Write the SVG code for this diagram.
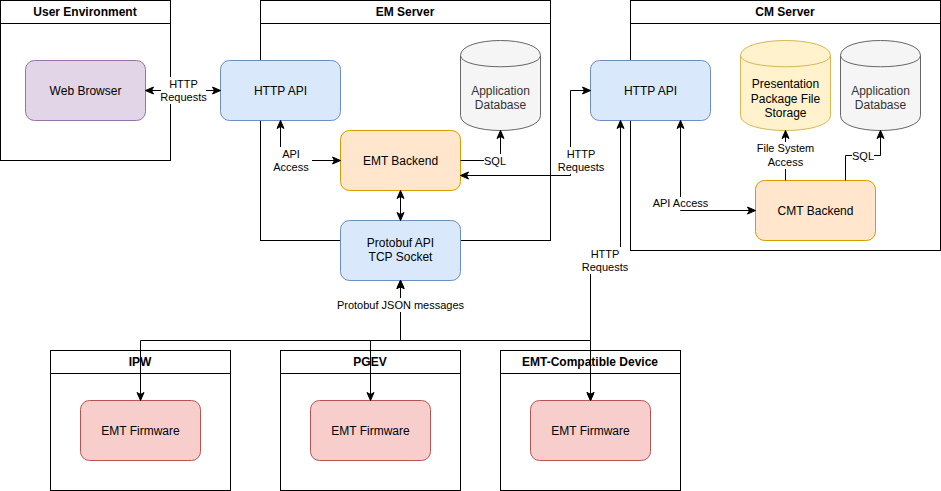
<svg xmlns="http://www.w3.org/2000/svg" width="941" height="491" viewBox="0 0 941 491">
<defs>
<marker id="arr" markerUnits="userSpaceOnUse" markerWidth="10" markerHeight="10" viewBox="0 0 10 10" refX="9" refY="5" orient="auto-start-reverse">
<path d="M1,1.5 L9,5 L1,8.5 L3,5 Z" fill="#000" stroke="#000" stroke-width="1"/>
</marker>
<style>
.cont{fill:#fff;stroke:#000;stroke-width:1}
.title{font-family:"Liberation Sans",Arial,sans-serif;font-size:12px;font-weight:bold;fill:#000;text-anchor:middle}
.lbl{font-family:"Liberation Sans",Arial,sans-serif;font-size:12px;fill:#000;text-anchor:middle}
.elbl{font-family:"Liberation Sans",Arial,sans-serif;font-size:11px;fill:#000;text-anchor:middle}
.bg{fill:#fff}
.edge{fill:none;stroke:#000;stroke-width:1}
.purple{fill:#e1d5e7;stroke:#9673a6}
.blue{fill:#dae8fc;stroke:#6c8ebf}
.orange{fill:#ffe6cc;stroke:#d79b00}
.red{fill:#f8cecc;stroke:#b85450}
.gray{fill:#f5f5f5;stroke:#666666}
.yellow{fill:#fff2cc;stroke:#d6b656}
</style>
</defs>
<rect width="941" height="491" fill="#fff"/>

<g id="user-env">
<rect class="cont" x="0.5" y="0.5" width="170" height="160"/>
<line x1="0.5" y1="23.5" x2="170.5" y2="23.5" stroke="#000"/>
<text class="title" x="85" y="16">User Environment</text>
</g>
<g id="em-server">
<rect class="cont" x="260.5" y="0.5" width="290" height="240"/>
<line x1="260.5" y1="23.5" x2="550.5" y2="23.5" stroke="#000"/>
<text class="title" x="405" y="16">EM Server</text>
</g>
<g id="cm-server">
<rect class="cont" x="630.5" y="0.5" width="310" height="250"/>
<line x1="630.5" y1="23.5" x2="940.5" y2="23.5" stroke="#000"/>
<text class="title" x="785" y="16">CM Server</text>
</g>
<g id="ipw">
<rect class="cont" x="50.5" y="350.5" width="180" height="140"/>
<line x1="50.5" y1="373.5" x2="230.5" y2="373.5" stroke="#000"/>
<text class="title" x="140" y="366">IPW</text>
</g>
<g id="pgev">
<rect class="cont" x="280.5" y="350.5" width="180" height="140"/>
<line x1="280.5" y1="373.5" x2="460.5" y2="373.5" stroke="#000"/>
<text class="title" x="370" y="366">PGEV</text>
</g>
<g id="device">
<rect class="cont" x="500.5" y="350.5" width="180" height="140"/>
<line x1="500.5" y1="373.5" x2="680.5" y2="373.5" stroke="#000"/>
<text class="title" x="590" y="366">EMT-Compatible Device</text>
</g>

<g id="web-browser">
<rect class="purple" x="25.5" y="60.5" width="120" height="60" rx="9"/>
<text class="lbl" x="85.5" y="95">Web Browser</text>
</g>
<g id="em-http-api">
<rect class="blue" x="220.5" y="60.5" width="120" height="60" rx="9"/>
<text class="lbl" x="280.5" y="95">HTTP API</text>
</g>
<g id="em-db">
<path class="gray" d="M460.5,55.5 C460.5,35.5 540.5,35.5 540.5,55.5 L540.5,115.5 C540.5,135.5 460.5,135.5 460.5,115.5 Z"/>
<path d="M460.5,55.5 C460.5,70.5 540.5,70.5 540.5,55.5" fill="none" stroke="#666666"/>
<text class="lbl" x="500.5" y="95" fill="#333333" style="fill:#333333">Application</text>
<text class="lbl" x="500.5" y="109" style="fill:#333333">Database</text>
</g>
<g id="emt-backend">
<rect class="orange" x="340.5" y="130.5" width="120" height="60" rx="9"/>
<text class="lbl" x="400.5" y="165">EMT Backend</text>
</g>
<g id="protobuf-api">
<rect class="blue" x="340.5" y="220.5" width="120" height="60" rx="9"/>
<text class="lbl" x="400.5" y="247">Protobuf API</text>
<text class="lbl" x="400.5" y="261">TCP Socket</text>
</g>
<g id="cm-http-api">
<rect class="blue" x="590.5" y="60.5" width="120" height="60" rx="9"/>
<text class="lbl" x="650.5" y="95">HTTP API</text>
</g>
<g id="file-storage">
<path class="yellow" d="M740.5,55.5 C740.5,35.5 830.5,35.5 830.5,55.5 L830.5,115.5 C830.5,135.5 740.5,135.5 740.5,115.5 Z"/>
<path d="M740.5,55.5 C740.5,70.5 830.5,70.5 830.5,55.5" fill="none" stroke="#d6b656"/>
<text class="lbl" x="785.5" y="88">Presentation</text>
<text class="lbl" x="785.5" y="103">Package File</text>
<text class="lbl" x="785.5" y="117">Storage</text>
</g>
<g id="cm-db">
<path class="gray" d="M840.5,55.5 C840.5,35.5 920.5,35.5 920.5,55.5 L920.5,115.5 C920.5,135.5 840.5,135.5 840.5,115.5 Z"/>
<path d="M840.5,55.5 C840.5,70.5 920.5,70.5 920.5,55.5" fill="none" stroke="#666666"/>
<text class="lbl" x="880.5" y="95" style="fill:#333333">Application</text>
<text class="lbl" x="880.5" y="109" style="fill:#333333">Database</text>
</g>
<g id="cmt-backend">
<rect class="orange" x="755.5" y="180.5" width="120" height="60" rx="9"/>
<text class="lbl" x="815.5" y="215">CMT Backend</text>
</g>
<g id="ipw-firmware">
<rect class="red" x="80.5" y="400.5" width="120" height="60" rx="9"/>
<text class="lbl" x="140.5" y="435">EMT Firmware</text>
</g>
<g id="pgev-firmware">
<rect class="red" x="310.5" y="400.5" width="120" height="60" rx="9"/>
<text class="lbl" x="370.5" y="435">EMT Firmware</text>
</g>
<g id="device-firmware">
<rect class="red" x="530.5" y="400.5" width="120" height="60" rx="9"/>
<text class="lbl" x="590.5" y="435">EMT Firmware</text>
</g>

<g id="connectors">
<path class="edge" d="M145.5,90.5 H220.5" marker-start="url(#arr)" marker-end="url(#arr)"/>
<path class="edge" d="M280.5,120.5 V160.5 H340.5" marker-start="url(#arr)" marker-end="url(#arr)"/>
<path class="edge" d="M460.5,160.5 H500.5 V130.5" marker-end="url(#arr)"/>
<path class="edge" d="M400.5,190.5 V220.5" marker-start="url(#arr)" marker-end="url(#arr)"/>
<path class="edge" d="M460.5,175.5 H570.5 V90.5 H590.5" marker-start="url(#arr)" marker-end="url(#arr)"/>
<path class="edge" d="M680.5,120.5 V210.5 H755.5" marker-start="url(#arr)" marker-end="url(#arr)"/>
<path class="edge" d="M785.5,180.5 V130.5" marker-end="url(#arr)"/>
<path class="edge" d="M845.5,180.5 V155.5 H880.5 V130.5" marker-end="url(#arr)"/>
<path class="edge" d="M590.5,400.5 V255.5 H620.5 V120.5" marker-start="url(#arr)" marker-end="url(#arr)"/>
<path class="edge" d="M400.5,280.5 V340.5 H140.5 V400.5" marker-start="url(#arr)" marker-end="url(#arr)"/>
<path class="edge" d="M400.5,280.5 V340.5 H370.5 V400.5" marker-start="url(#arr)" marker-end="url(#arr)"/>
<path class="edge" d="M400.5,280.5 V340.5 H590.5 V400.5" marker-start="url(#arr)" marker-end="url(#arr)"/>

<rect class="bg" x="161" y="77" width="45" height="27"/>
<text class="elbl" x="183.5" y="88">HTTP</text>
<text class="elbl" x="183.5" y="101">Requests</text>

<rect class="bg" x="270" y="147" width="42" height="27"/>
<text class="elbl" x="291" y="158">API</text>
<text class="elbl" x="291" y="171">Access</text>

<rect class="bg" x="484" y="154" width="22" height="13"/>
<text class="elbl" x="495" y="165">SQL</text>

<rect class="bg" x="558" y="147" width="46" height="27"/>
<text class="elbl" x="581" y="158">HTTP</text>
<text class="elbl" x="581" y="171">Requests</text>

<rect class="bg" x="651" y="197" width="59" height="13"/>
<text class="elbl" x="680.5" y="207">API Access</text>

<rect class="bg" x="752" y="142" width="67" height="27"/>
<text class="elbl" x="785.5" y="152">File System</text>
<text class="elbl" x="785.5" y="166">Access</text>

<rect class="bg" x="852" y="149" width="22" height="13"/>
<text class="elbl" x="863" y="160">SQL</text>

<rect class="bg" x="582" y="247" width="46" height="27"/>
<text class="elbl" x="605" y="258">HTTP</text>
<text class="elbl" x="605" y="271">Requests</text>

<rect class="bg" x="338" y="298" width="125" height="14"/>
<text class="elbl" x="400.5" y="309">Protobuf JSON messages</text>
</g>
</svg>
